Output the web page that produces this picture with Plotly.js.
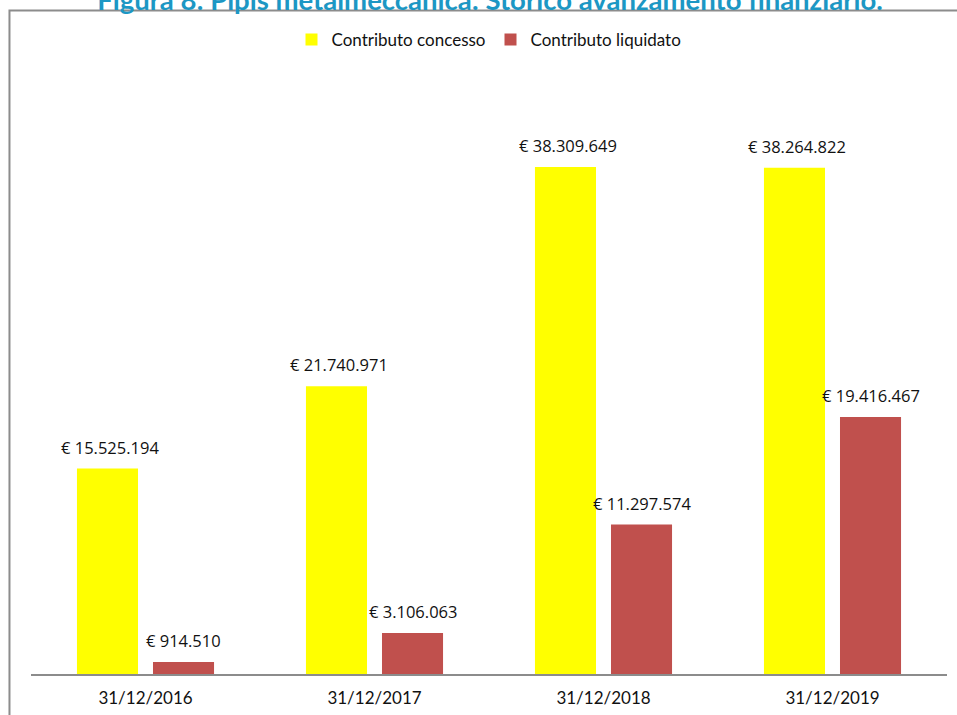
<!DOCTYPE html>
<html>
<head>
<meta charset="utf-8">
<script src="https://cdn.plot.ly/plotly-3.0.1.min.js"></script>
<style>html,body{margin:0;padding:0;background:#fff;}#chart{width:957px;height:715px;}</style>
</head>
<body>
<div id="chart"></div>
<script>
const categories = ["31/12/2016", "31/12/2017", "31/12/2018", "31/12/2019"];
const concesso = [15525194, 21740971, 38309649, 38264822];
const liquidato = [914510, 3106063, 11297574, 19416467];
const seriesNames = ["Contributo concesso", "Contributo liquidato"];
const titleText = "Figura 8: Pipis metalmeccanica: Storico avanzamento finanziario.";

function fmtEuro(v) {
  const s = String(Math.round(v));
  return "€ " + s.replace(/\B(?=(\d{3})+(?!\d))/g, ".");
}

const traces = [
  { type: "bar", name: seriesNames[0], x: categories, y: concesso,
    marker: { color: "#FFFF00" }, hoverinfo: "skip" },
  { type: "bar", name: seriesNames[1], x: categories, y: liquidato,
    marker: { color: "#C0504D" }, hoverinfo: "skip" }
];

const annotations = [];
[concesso, liquidato].forEach((arr, si) => {
  arr.forEach((v, i) => {
    annotations.push({
      x: categories[i], y: v, xref: "x", yref: "y",
      xshift: si === 0 ? -36 : 38, yshift: 8,
      yanchor: "bottom", xanchor: "center",
      text: fmtEuro(v), showarrow: false,
      font: { family: "Open Sans, sans-serif", size: 16.5, color: "#111111" }
    });
  });
});

const layout = {
  width: 957, height: 715,
  margin: { l: 31, r: 10, t: 60, b: 41 },
  paper_bgcolor: "#ffffff", plot_bgcolor: "#ffffff",
  title: { text: "<b>" + titleText + "</b>", x: 0.512, xanchor: "center", y: 1, yref: "container", yanchor: "middle",
           font: { family: "Lato, sans-serif", size: 27.5, color: "#1C97C4" } },
  barmode: "group", bargap: 0.336, bargroupgap: 0.197,
  showlegend: true,
  legend: { orientation: "h", x: 0.5, xanchor: "center", y: 1.0326, yanchor: "middle",
            font: { family: "Lato, sans-serif", size: 17, color: "#111111" }, traceorder: "normal",
            itemwidth: 30 },
  xaxis: { type: "category", showline: true, linecolor: "#8c8c8c", linewidth: 2,
           showgrid: false, zeroline: false, ticks: "", ticklabelstandoff: 8,
           tickfont: { family: "Lato, sans-serif", size: 17, color: "#111111" }, fixedrange: true },
  yaxis: { visible: false, range: [0, 46400000], fixedrange: true, showgrid: false, zeroline: false },
  annotations: annotations,
  shapes: [{
    type: "rect", xref: "paper", yref: "paper",
    x0: -0.0235, x1: 1.1, y0: -0.2, y1: 1.0806,
    line: { color: "#8c8c8c", width: 2 }, fillcolor: "rgba(0,0,0,0)", layer: "below"
  }]
};

Plotly.newPlot("chart", traces, layout, { displayModeBar: false, staticPlot: true });
</script>
</body>
</html>
